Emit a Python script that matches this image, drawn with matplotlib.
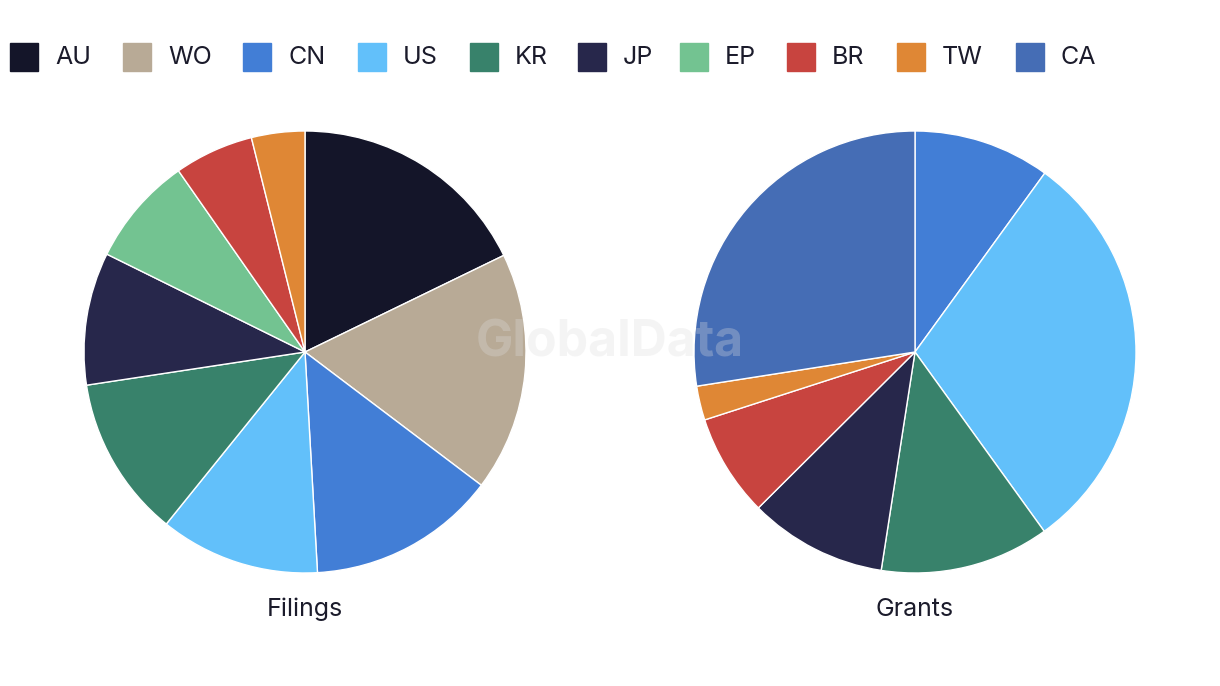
import matplotlib
matplotlib.use("Agg")
import matplotlib.pyplot as plt
from matplotlib.patches import Rectangle

plt.rcParams['font.family'] = ['Inter', 'DejaVu Sans']

categories = ["AU", "WO", "CN", "US", "KR", "JP", "EP", "BR", "TW", "CA"]
colors = ["#141529", "#b8aa96", "#427ed6", "#62c0fa", "#38826b",
          "#27274b", "#73c391", "#c8443f", "#df8735", "#456db5"]
filings = [17.8, 17.5, 13.8, 11.7, 11.8, 9.7, 8.0, 5.8, 3.9, 0.0]
grants = [0.0, 0.0, 10.0, 30.1, 12.4, 10.1, 0.0, 7.5, 2.5, 27.5]
pie_titles = ["Filings", "Grants"]

W, H = 1220, 686
fig = plt.figure(figsize=(W / 100, H / 100), dpi=100)

def draw_pie(cx, vals, title):
    r = 221
    cy = 352
    ax = fig.add_axes([(cx - r) / W, (H - cy - r) / H, 2 * r / W, 2 * r / H])
    v = [x for x in vals if x > 0]
    c = [col for x, col in zip(vals, colors) if x > 0]
    ax.pie(v, colors=c, startangle=90, counterclock=False, radius=1,
           wedgeprops=dict(edgecolor="white", linewidth=1))
    ax.set_xlim(-1, 1)
    ax.set_ylim(-1, 1)
    ax.set_aspect("equal")
    ax.axis("off")
    fig.text(cx / W, 1 - 609 / H, title, ha="center", va="center",
             fontsize=18, color="#1b1b2b")

draw_pie(305, filings, pie_titles[0])
draw_pie(915, grants, pie_titles[1])

# legend
xs = [10, 123, 243, 358, 470, 578, 680, 787, 897, 1016]
for x, lab, col in zip(xs, categories, colors):
    fig.patches.append(Rectangle((x / W, 1 - 71 / H), 28 / W, 28 / H,
                                 transform=fig.transFigure, color=col))
    fig.text((x + 45) / W, 1 - 57 / H, lab, ha="left", va="center",
             fontsize=18, color="#1b1b2b")

# watermark
fig.text(610 / W, 1 - 343 / H, "GlobalData", ha="center", va="center",
         fontsize=36, fontweight="bold", color="#dddddd", alpha=0.3, zorder=10)

fig.savefig("out.png", dpi=100, facecolor="white")
